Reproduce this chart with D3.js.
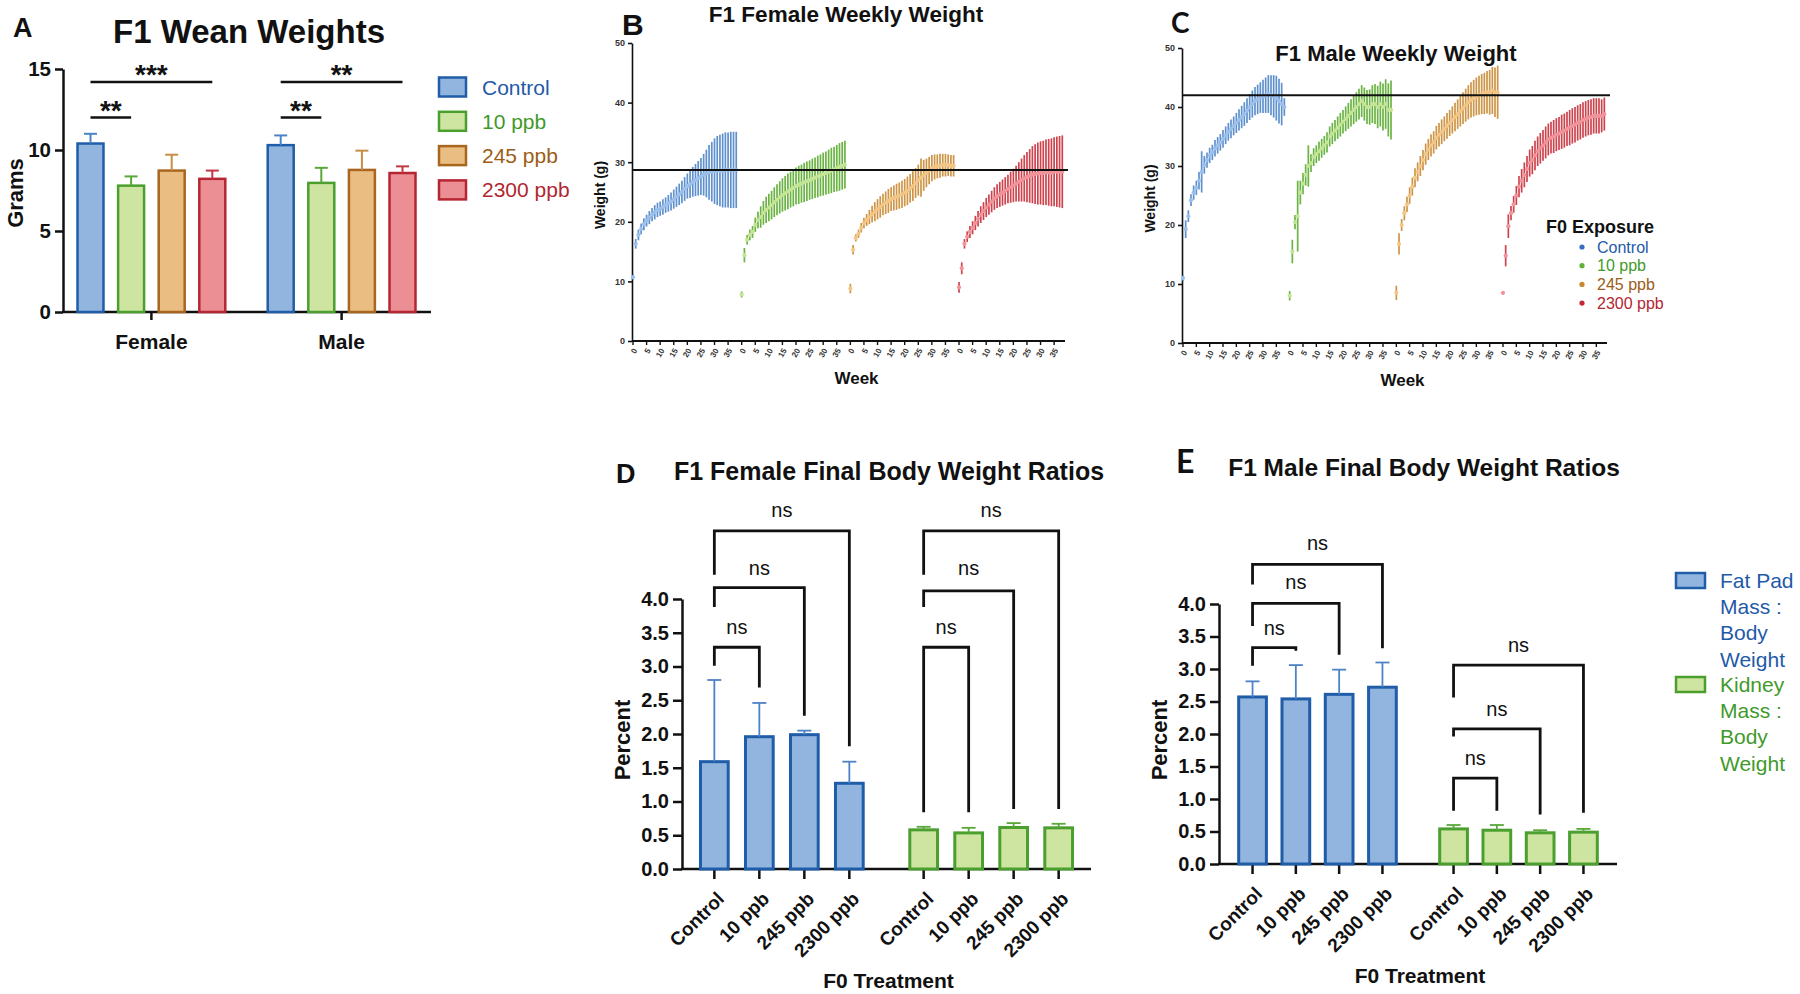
<!DOCTYPE html>
<html>
<head>
<meta charset="utf-8">
<script src="https://cdn.jsdelivr.net/npm/d3@7"></script>
<style>
  body { margin: 0; background: #fff; }
  svg { display: block; font-family: "Liberation Sans", Arial, sans-serif; }
</style>
</head>
<body>
<svg id="fig" width="1800" height="994"></svg>
<script>
// F1 weights figure -- panels A to E

///////////////////////////////////////////////////////////////////////////////
// Data

var sexes = ["Female", "Male"];
var treatments = ["Control", "10 ppb", "245 ppb", "2300 ppb"];

// A: wean weights (grams), mean + SD
var weanFemaleMean = [10.4, 7.8, 8.73, 8.22];
var weanFemaleSD = [0.6, 0.57, 0.98, 0.51];
var weanMaleMean = [10.3, 7.97, 8.77, 8.58];
var weanMaleSD = [0.6, 0.93, 1.19, 0.41];
var weanTicks = [0, 5, 10, 15];
// sex, from treatment, to treatment, bar height (g), stars
var weanSig = [
  ["Female", 0, 1, 12.0, "**"],
  ["Female", 0, 3, 14.2, "***"],
  ["Male", 0, 1, 12.0, "**"],
  ["Male", 0, 3, 14.2, "**"]
];

// B, C: weekly weights (grams), mean + SD per week
var weeks = [0, 1, 2, 3, 4, 5, 6, 7, 8, 9, 10, 11, 12, 13, 14, 15, 16, 17, 18, 19,
             20, 21, 22, 23, 24, 25, 26, 27, 28, 29, 30, 31, 32, 33, 34, 35, 36, 37, 38];
var weekTicks = [0, 5, 10, 15, 20, 25, 30, 35];
var weightTicks = [0, 10, 20, 30, 40, 50];

var femCtrlMean = [10.7, 16.3, 17.8, 18.8, 19.6, 20.2, 20.7, 21.2, 21.6, 22.0, 22.2, 22.5, 22.8, 23.1, 23.4, 23.8, 24.2, 24.6, 25.0, 25.5,
                   26.0, 26.3, 26.7, 27.0, 27.3, 27.6, 27.9, 28.1, 28.3, 28.4, 28.5, 28.6, 28.6, 28.6, 28.7, 28.7, 28.7, 28.7, 28.7];
var femCtrlSD = [0.4, 0.8, 0.9, 0.9, 1.0, 1.0, 1.1, 1.1, 1.2, 1.2, 1.2, 1.3, 1.3, 1.4, 1.5, 1.6, 1.7, 1.8, 1.9, 2.0,
                 2.1, 2.3, 2.5, 2.7, 2.9, 3.1, 3.5, 4.0, 4.6, 5.0, 5.5, 5.8, 6.0, 6.2, 6.3, 6.3, 6.4, 6.4, 6.4];
var fem10Mean = [7.8, 14.4, 17.0, 17.8, 18.3, 19.5, 20.3, 20.8, 21.5, 22.0, 22.4, 22.8, 23.3, 23.7, 24.1, 24.5, 24.8, 25.1, 25.4, 25.7,
                 26.0, 26.2, 26.4, 26.6, 26.8, 27.0, 27.2, 27.4, 27.6, 27.8, 28.0, 28.2, 28.4, 28.6, 28.8, 29.0, 29.2, 29.4, 29.6];
var fem10SD = [0.5, 1.2, 0.8, 0.9, 1.0, 1.2, 1.4, 1.8, 2.0, 2.2, 2.3, 2.4, 2.5, 2.6, 2.7, 2.8, 2.9, 3.0, 3.0, 3.1,
               3.1, 3.2, 3.2, 3.3, 3.3, 3.3, 3.4, 3.4, 3.5, 3.5, 3.6, 3.6, 3.7, 3.8, 3.8, 3.9, 4.0, 4.0, 4.0];
var fem245Mean = [8.8, 15.3, 17.3, 18.0, 19.0, 19.8, 20.3, 20.8, 21.3, 21.7, 22.1, 22.5, 22.9, 23.2, 23.5, 23.8, 24.0, 24.2, 24.4, 24.6,
                  24.9, 25.2, 25.6, 26.0, 26.5, 27.0, 27.4, 27.8, 28.2, 28.6, 29.0, 29.2, 29.3, 29.4, 29.5, 29.5, 29.5, 29.4, 29.4];
var fem245SD = [0.8, 0.8, 0.6, 0.7, 0.8, 0.9, 1.0, 1.2, 1.4, 1.6, 1.7, 1.8, 1.8, 1.9, 2.0, 2.0, 2.1, 2.2, 2.2, 2.3,
                2.3, 2.4, 2.4, 2.5, 2.5, 2.6, 3.2, 2.6, 2.4, 2.3, 2.2, 2.1, 2.0, 2.0, 1.9, 1.9, 1.8, 1.8, 1.8];
var fem2300Mean = [9.0, 12.2, 16.3, 17.5, 18.3, 19.0, 19.8, 20.5, 21.2, 21.8, 22.4, 22.9, 23.4, 23.9, 24.3, 24.6, 24.9, 25.2, 25.5, 25.8,
                   26.1, 26.4, 26.7, 27.0, 27.3, 27.5, 27.7, 27.9, 28.0, 28.1, 28.2, 28.2, 28.3, 28.3, 28.3, 28.4, 28.4, 28.4, 28.4];
var fem2300SD = [0.9, 1.0, 0.8, 0.9, 1.0, 1.1, 1.2, 1.3, 1.4, 1.5, 1.6, 1.7, 1.8, 1.9, 2.0, 2.1, 2.2, 2.3, 2.4, 2.6,
                 2.8, 3.0, 3.3, 3.6, 3.9, 4.2, 4.5, 4.8, 5.0, 5.2, 5.3, 5.4, 5.5, 5.6, 5.7, 5.8, 5.9, 6.0, 6.1];
var femaleRefLine = 28.7;

var maleCtrlMean = [11.0, 19.3, 21.5, 24.2, 25.5, 26.3, 27.5, 29.0, 30.2, 31.0, 31.8, 32.3, 33.0, 33.5, 34.0, 34.6, 35.2, 35.8, 36.3, 36.8,
                    37.3, 37.8, 38.3, 38.8, 39.4, 40.0, 40.5, 41.0, 41.3, 41.6, 41.8, 42.0, 42.2, 42.0, 41.8, 41.5, 41.0, 40.5, 40.0];
var maleCtrlSD = [0.5, 1.5, 1.0, 1.0, 1.2, 1.2, 1.5, 3.5, 1.5, 1.3, 1.3, 1.3, 1.4, 1.4, 1.4, 1.5, 1.5, 1.5, 1.6, 1.6,
                  1.7, 1.8, 1.9, 2.0, 2.1, 2.2, 2.3, 2.4, 2.5, 2.6, 2.8, 3.0, 3.2, 3.4, 3.6, 3.8, 3.8, 3.6, 1.5];
var male10Mean = [8.0, 15.5, 20.5, 21.5, 25.5, 27.0, 28.5, 30.0, 30.5, 31.5, 32.0, 32.5, 33.0, 33.5, 34.0, 35.0, 35.5, 36.0, 36.5, 37.0,
                  37.5, 38.0, 38.5, 39.0, 39.5, 40.0, 40.5, 41.0, 40.5, 40.0, 40.0, 40.5, 40.5, 40.0, 40.5, 40.0, 40.5, 39.5, 39.5];
var male10SD = [0.8, 2.0, 1.2, 6.0, 2.0, 1.8, 1.8, 3.5, 1.5, 1.5, 1.5, 1.6, 1.6, 1.6, 1.7, 1.7, 1.8, 1.8, 1.9, 2.0,
                2.0, 2.1, 2.2, 2.3, 2.4, 2.5, 2.6, 2.7, 2.8, 2.9, 3.0, 3.2, 3.4, 3.6, 3.8, 4.0, 4.2, 4.5, 5.0];
var male245Mean = [8.5, 16.8, 20.0, 22.0, 23.5, 25.0, 26.5, 28.0, 29.0, 30.0, 31.0, 32.0, 32.8, 33.5, 34.0, 34.8, 35.3, 35.8, 36.3, 36.8,
                   37.3, 37.8, 38.3, 38.8, 39.3, 39.8, 40.3, 40.8, 41.2, 41.5, 41.8, 42.0, 42.2, 42.3, 42.5, 42.5, 42.8, 42.5, 42.5];
var male245SD = [1.2, 1.8, 1.0, 1.2, 1.3, 1.4, 1.5, 1.6, 1.6, 1.7, 1.7, 1.8, 1.8, 1.9, 1.9, 2.0, 2.0, 2.1, 2.1, 2.2,
                 2.2, 2.3, 2.4, 2.5, 2.6, 2.7, 2.8, 2.9, 3.0, 3.1, 3.2, 3.3, 3.4, 3.5, 3.6, 3.8, 4.0, 4.2, 4.5];
var male2300Mean = [8.5, 14.8, 19.8, 22.0, 23.5, 25.0, 26.5, 27.5, 28.5, 29.5, 30.5, 31.0, 31.8, 32.5, 33.0, 33.5, 34.0, 34.5, 34.8, 35.0,
                    35.3, 35.5, 35.8, 36.0, 36.3, 36.5, 36.8, 37.0, 37.3, 37.5, 37.8, 38.0, 38.2, 38.3, 38.5, 38.5, 38.5, 38.5, 38.8];
var male2300SD = [0.3, 1.8, 2.0, 1.2, 1.4, 1.6, 1.8, 2.0, 2.1, 2.2, 2.3, 2.4, 2.5, 2.5, 2.6, 2.6, 2.7, 2.7, 2.7, 2.8,
                  2.8, 2.8, 2.9, 2.9, 2.9, 3.0, 3.0, 3.0, 3.0, 3.0, 3.0, 3.0, 3.0, 3.0, 3.0, 3.0, 3.0, 2.8, 2.8];
var maleRefLine = 42;

// D, E: organ mass : body weight (percent), mean + SD
var ratioMeasures = ["Fat Pad Mass : Body Weight", "Kidney Mass : Body Weight"];
var ratioTicks = [0, 0.5, 1.0, 1.5, 2.0, 2.5, 3.0, 3.5, 4.0];
var femFatMean = [1.59, 1.96, 1.99, 1.27];
var femFatSD = [1.21, 0.50, 0.06, 0.32];
var femKidneyMean = [0.58, 0.535, 0.615, 0.61];
var femKidneySD = [0.045, 0.075, 0.065, 0.06];
var maleFatMean = [2.57, 2.54, 2.61, 2.72];
var maleFatSD = [0.24, 0.52, 0.38, 0.38];
var maleKidneyMean = [0.54, 0.52, 0.48, 0.49];
var maleKidneySD = [0.06, 0.08, 0.04, 0.05];
// comparisons vs Control: to treatment, top, left leg end, right leg end, label height (percent)
var femFatBrackets = [[1, 3.285, 3.01, 2.69, 3.57], [2, 4.17, 3.88, 2.27, 4.44], [3, 5.01, 4.36, 1.82, 5.31]];
var femKidneyBrackets = [[1, 3.285, 0.84, 0.84, 3.57], [2, 4.12, 3.88, 0.89, 4.44], [3, 5.01, 4.36, 0.89, 5.31]];
var maleFatBrackets = [[1, 3.33, 3.05, 3.28, 3.62], [2, 4.01, 3.66, 3.22, 4.33], [3, 4.61, 4.30, 3.32, 4.93]];
var maleKidneyBrackets = [[1, 1.32, 0.82, 0.82, 1.61], [2, 2.08, 1.96, 0.76, 2.37], [3, 3.06, 2.56, 0.79, 3.35]];

///////////////////////////////////////////////////////////////////////////////
// Styles

var fillColors = ["#92b5e0", "#cde5a1", "#eabd82", "#eb8f94"];
var strokeColors = ["#1f5da8", "#4b9f2f", "#a8661f", "#b52632"];
var errColors = ["#4d82c6", "#5aa83a", "#c78d45", "#c23743"];
var textColors = ["#1f5aa8", "#3f9a2a", "#9c5d16", "#b22631"];
var weeklyBarColors = ["#4f86c9", "#5cab2f", "#c98a34", "#c8303c"];
var weeklyDotColors = ["#9cc0ec", "#c3e595", "#f3c685", "#f29299"];
var legendDotColors = ["#3a6cc0", "#5fb236", "#c7892c", "#c42a36"];

var svg = d3.select("#fig");
svg.append("rect").attr("width", 1800).attr("height", 994).attr("fill", "#fff");

var styleAxis = function (sel, size, width) {
  sel.select(".domain").attr("stroke", "#111").attr("stroke-width", width);
  sel.selectAll(".tick line").attr("stroke", "#111").attr("stroke-width", width);
  sel.selectAll(".tick text").attr("fill", "#111").attr("font-size", size)
    .attr("font-weight", "bold").attr("font-family", "Liberation Sans, Arial, sans-serif");
};

var addText = function (g, x, y, str, size, opts) {
  opts = opts || {};
  var t = g.append("text").attr("x", x).attr("y", y).text(str)
    .attr("font-size", size)
    .attr("font-weight", opts.weight || "bold")
    .attr("fill", opts.fill || "#111")
    .attr("text-anchor", opts.anchor || "middle");
  if (opts.family) t.attr("font-family", opts.family);
  if (opts.rotate) t.attr("transform", "rotate(" + opts.rotate + "," + x + "," + y + ")");
  return t;
};

// upward error bar with cap
var errorBar = function (g, cx, yMean, yTop, color, capW, width) {
  g.append("line").attr("x1", cx).attr("x2", cx).attr("y1", yMean).attr("y2", yTop)
    .attr("stroke", color).attr("stroke-width", width);
  g.append("line").attr("x1", cx - capW / 2).attr("x2", cx + capW / 2).attr("y1", yTop).attr("y2", yTop)
    .attr("stroke", color).attr("stroke-width", width);
};

///////////////////////////////////////////////////////////////////////////////
// A: wean weights

(function () {
  var g = svg.append("g");
  var y = d3.scaleLinear().domain([0, 15]).range([312, 69]);
  var x = d3.scalePoint().domain(sexes).range([62, 431]).padding(0.47);
  var xi = d3.scaleBand().domain(treatments).range([-81.2, 81.2]).paddingInner(0.36).paddingOuter(0.18);
  var means = { Female: weanFemaleMean, Male: weanMaleMean };
  var sds = { Female: weanFemaleSD, Male: weanMaleSD };

  addText(g, 13, 37, "A", 27, { anchor: "start" });
  addText(g, 249, 43, "F1 Wean Weights", 33);

  g.append("g").attr("transform", "translate(63,0)")
    .call(d3.axisLeft(y).tickValues(weanTicks).tickSize(8).tickSizeOuter(0).tickPadding(4))
    .call(styleAxis, 20.5, 2.5);
  g.append("line").attr("x1", 62).attr("x2", 431).attr("y1", 312).attr("y2", 312)
    .attr("stroke", "#111").attr("stroke-width", 2.5);
  sexes.forEach(function (s) {
    g.append("line").attr("x1", x(s)).attr("x2", x(s)).attr("y1", 312).attr("y2", 320)
      .attr("stroke", "#111").attr("stroke-width", 2.5);
    addText(g, x(s), 349, s, 21);
    treatments.forEach(function (t, i) {
      var bx = x(s) + xi(t);
      g.append("rect").attr("x", bx).attr("y", y(means[s][i]))
        .attr("width", xi.bandwidth()).attr("height", y(0) - y(means[s][i]))
        .attr("fill", fillColors[i]).attr("stroke", strokeColors[i]).attr("stroke-width", 2.5);
      errorBar(g, bx + xi.bandwidth() / 2, y(means[s][i]), y(means[s][i] + sds[s][i]), errColors[i], 13, 2);
    });
  });
  addText(g, 23, 193, "Grams", 22, { rotate: -90 });

  // significance lines
  weanSig.forEach(function (d) {
    var x1 = x(d[0]) + xi(treatments[d[1]]) + xi.bandwidth() / 2;
    var x2 = x(d[0]) + xi(treatments[d[2]]) + xi.bandwidth() / 2;
    g.append("line").attr("x1", x1).attr("x2", x2).attr("y1", y(d[3])).attr("y2", y(d[3]))
      .attr("stroke", "#111").attr("stroke-width", 2.5);
    addText(g, (x1 + x2) / 2, y(d[3]) + 2, d[4], 28);
  });

  // legend
  treatments.forEach(function (t, i) {
    var cy = 87 + i * 34.3;
    g.append("rect").attr("x", 439).attr("y", cy - 9.5).attr("width", 27).attr("height", 19)
      .attr("fill", fillColors[i]).attr("stroke", strokeColors[i]).attr("stroke-width", 2.5);
    addText(g, 482, cy + 7.5, t, 21, { anchor: "start", weight: "normal", fill: textColors[i] });
  });
})();

///////////////////////////////////////////////////////////////////////////////
// B, C: weekly weights

var drawWeekly = function (cfg) {
  var g = svg.append("g");
  var y = d3.scaleLinear().domain([0, 50]).range([cfg.yBottom, cfg.yTop]);
  var x = d3.scaleLinear().domain([0, 159]).range([cfg.xLeft + 1, cfg.xRight]);

  g.append("g").attr("transform", "translate(" + cfg.xLeft + ",0)")
    .call(d3.axisLeft(y).tickValues(weightTicks).tickSize(4).tickSizeOuter(0).tickPadding(3))
    .call(styleAxis, 9, 1.6);
  g.selectAll(".tick text").attr("fill", "#333");
  g.append("line").attr("x1", cfg.xLeft).attr("x2", cfg.xRight).attr("y1", cfg.yBottom).attr("y2", cfg.yBottom)
    .attr("stroke", "#111").attr("stroke-width", 1.8);

  var tickSlots = [];
  cfg.series.forEach(function (s, gi) {
    weekTicks.forEach(function (w) { tickSlots.push([gi * 40 + w, w]); });
  });
  tickSlots.forEach(function (d) {
    var tx = x(d[0]);
    g.append("line").attr("x1", tx).attr("x2", tx).attr("y1", cfg.yBottom).attr("y2", cfg.yBottom + 4)
      .attr("stroke", "#111").attr("stroke-width", 1.4);
    g.append("text").attr("transform", "translate(" + (tx + 2) + "," + (cfg.yBottom + 8) + ") rotate(-60)")
      .attr("text-anchor", "end").attr("dy", "0.35em").attr("font-size", 8).attr("font-weight", "bold")
      .attr("fill", "#333").text(d[1]);
  });

  cfg.series.forEach(function (s, gi) {
    var mean = s[0], sd = s[1];
    var sg = g.append("g");
    sg.selectAll("line").data(weeks).join("line")
      .attr("x1", function (w) { return x(gi * 40 + w); })
      .attr("x2", function (w) { return x(gi * 40 + w); })
      .attr("y1", function (w, i) { return y(mean[i] - sd[i]); })
      .attr("y2", function (w, i) { return y(mean[i] + sd[i]); })
      .attr("stroke", weeklyBarColors[gi]).attr("stroke-width", 1.7).attr("opacity", 0.9);
    sg.selectAll("circle").data(weeks).join("circle")
      .attr("cx", function (w) { return x(gi * 40 + w); })
      .attr("cy", function (w, i) { return y(mean[i]); })
      .attr("r", 2.1).attr("fill", weeklyDotColors[gi]);
  });

  // reference line over the data
  g.append("line").attr("x1", cfg.xLeft).attr("x2", cfg.xRight + 3)
    .attr("y1", y(cfg.ref)).attr("y2", y(cfg.ref)).attr("stroke", "#111").attr("stroke-width", 2);

  addText(g, cfg.letterX, cfg.letterY, cfg.letter, cfg.letterSize, { anchor: "start", family: cfg.letterFont });
  addText(g, cfg.titleX, cfg.titleY, cfg.title, cfg.titleSize);
  addText(g, cfg.xLeft - 27, (cfg.yTop + cfg.yBottom) / 2 + 3, "Weight (g)", 14, { rotate: -90 });
  addText(g, (cfg.xLeft + cfg.xRight) / 2 + 8, cfg.yBottom + 43, "Week", 17);
  return g;
};

drawWeekly({
  xLeft: 632, xRight: 1065, yTop: 43, yBottom: 341, ref: femaleRefLine,
  series: [[femCtrlMean, femCtrlSD], [fem10Mean, fem10SD], [fem245Mean, fem245SD], [fem2300Mean, fem2300SD]],
  letter: "B", letterX: 622, letterY: 35, letterSize: 30,
  title: "F1 Female Weekly Weight", titleX: 846, titleY: 22, titleSize: 22.5
});

var gC = drawWeekly({
  xLeft: 1182, xRight: 1607, yTop: 48, yBottom: 343, ref: maleRefLine,
  series: [[maleCtrlMean, maleCtrlSD], [male10Mean, male10SD], [male245Mean, male245SD], [male2300Mean, male2300SD]],
  letter: "C", letterX: 1171, letterY: 33, letterSize: 28, letterFont: "Lato, sans-serif",
  title: "F1 Male Weekly Weight", titleX: 1396, titleY: 61, titleSize: 22
});

// C legend
addText(gC, 1546, 233, "F0 Exposure", 18, { anchor: "start" });
treatments.forEach(function (t, i) {
  var cy = 247 + i * 18.7;
  gC.append("circle").attr("cx", 1582).attr("cy", cy).attr("r", 2.6).attr("fill", legendDotColors[i]);
  addText(gC, 1597, cy + 5.5, t, 16, { anchor: "start", weight: "normal", fill: textColors[i] });
});

///////////////////////////////////////////////////////////////////////////////
// D, E: final body weight ratios

var drawRatios = function (cfg) {
  var g = svg.append("g");
  var y = d3.scaleLinear().domain([0, 4]).range([cfg.yBottom, cfg.yTop]);
  var xg = d3.scalePoint().domain(ratioMeasures).range([cfg.xLeft, cfg.xRight]).padding(cfg.groupPad);
  var xi = d3.scaleBand().domain(treatments).range([-2 * cfg.pitch, 2 * cfg.pitch])
    .paddingInner(cfg.padIn).paddingOuter(cfg.padIn / 2);
  var bw = xi.bandwidth();
  var cx = function (m, i) { return xg(m) + xi(treatments[i]) + bw / 2; };

  g.append("g").attr("transform", "translate(" + cfg.xLeft + ",0)")
    .call(d3.axisLeft(y).tickValues(ratioTicks).tickFormat(d3.format(".1f")).tickSize(9).tickSizeOuter(0).tickPadding(4))
    .call(styleAxis, 20, 2.5);
  g.append("line").attr("x1", cfg.xLeft - 1).attr("x2", cfg.xRight).attr("y1", cfg.yBottom).attr("y2", cfg.yBottom)
    .attr("stroke", "#111").attr("stroke-width", 2.5);

  ratioMeasures.forEach(function (m, mi) {
    var means = cfg.means[mi], sds = cfg.sds[mi];
    treatments.forEach(function (t, i) {
      var c = cx(m, i);
      g.append("line").attr("x1", c).attr("x2", c).attr("y1", cfg.yBottom).attr("y2", cfg.yBottom + 10)
        .attr("stroke", "#111").attr("stroke-width", 2.5);
      g.append("text").attr("transform", "translate(" + (c + 11) + "," + (cfg.yBottom + 31) + ") rotate(-45)")
        .attr("text-anchor", "end").attr("font-size", 19).attr("font-weight", "bold").attr("fill", "#111").text(t);
      g.append("rect").attr("x", c - bw / 2).attr("y", y(means[i]))
        .attr("width", bw).attr("height", y(0) - y(means[i]))
        .attr("fill", fillColors[mi]).attr("stroke", strokeColors[mi]).attr("stroke-width", 3);
      errorBar(g, c, y(means[i]), y(means[i] + sds[i]), errColors[mi], 14, 1.8);
    });
    cfg.brackets[mi].forEach(function (b) {
      var xl = cx(m, 0), xr = cx(m, b[0]);
      g.append("path")
        .attr("d", "M" + xl + "," + y(b[2]) + "V" + y(b[1]) + "H" + xr + "V" + y(b[3]))
        .attr("fill", "none").attr("stroke", "#111").attr("stroke-width", 2.8);
      addText(g, (xl + xr) / 2, y(b[4]) + 6, "ns", 20, { weight: "normal" });
    });
  });

  addText(g, cfg.letterX, cfg.letterY, cfg.letter, cfg.letterSize, { anchor: "start", family: cfg.letterFont });
  addText(g, cfg.titleX, cfg.titleY, cfg.title, cfg.titleSize);
  addText(g, cfg.xLeft - 52, (cfg.yTop + cfg.yBottom) / 2 + 6, "Percent", 22, { rotate: -90 });
  addText(g, (cfg.xLeft + cfg.xRight) / 2 + 2, cfg.labelY, "F0 Treatment", 21);
  return g;
};

drawRatios({
  xLeft: 682, xRight: 1091, yTop: 599, yBottom: 869, groupPad: 0.477, pitch: 45, padIn: 0.384,
  means: [femFatMean, femKidneyMean], sds: [femFatSD, femKidneySD],
  brackets: [femFatBrackets, femKidneyBrackets],
  letter: "D", letterX: 616, letterY: 483, letterSize: 27,
  title: "F1 Female Final Body Weight Ratios", titleX: 889, titleY: 480, titleSize: 25,
  labelY: 988
});

var gE = drawRatios({
  xLeft: 1219, xRight: 1617, yTop: 604, yBottom: 864, groupPad: 0.49, pitch: 43.3, padIn: 0.36,
  means: [maleFatMean, maleKidneyMean], sds: [maleFatSD, maleKidneySD],
  brackets: [maleFatBrackets, maleKidneyBrackets],
  letter: "E", letterX: 1176, letterY: 473, letterSize: 32, letterFont: "Lato, sans-serif",
  title: "F1 Male Final Body Weight Ratios", titleX: 1424, titleY: 476, titleSize: 24.5, labelY: 983
});

// E legend
var legendLines = [["Fat Pad", "Mass :", "Body", "Weight"], ["Kidney", "Mass :", "Body", "Weight"]];
legendLines.forEach(function (lines, mi) {
  var top = mi === 0 ? 573 : 677;
  gE.append("rect").attr("x", 1676).attr("y", top).attr("width", 29).attr("height", 15)
    .attr("fill", fillColors[mi]).attr("stroke", strokeColors[mi]).attr("stroke-width", 2.5);
  lines.forEach(function (l, li) {
    addText(gE, 1720, top + 15 + li * 26.2, l, 21, { anchor: "start", weight: "normal", fill: textColors[mi] });
  });
});
</script>
</body>
</html>
